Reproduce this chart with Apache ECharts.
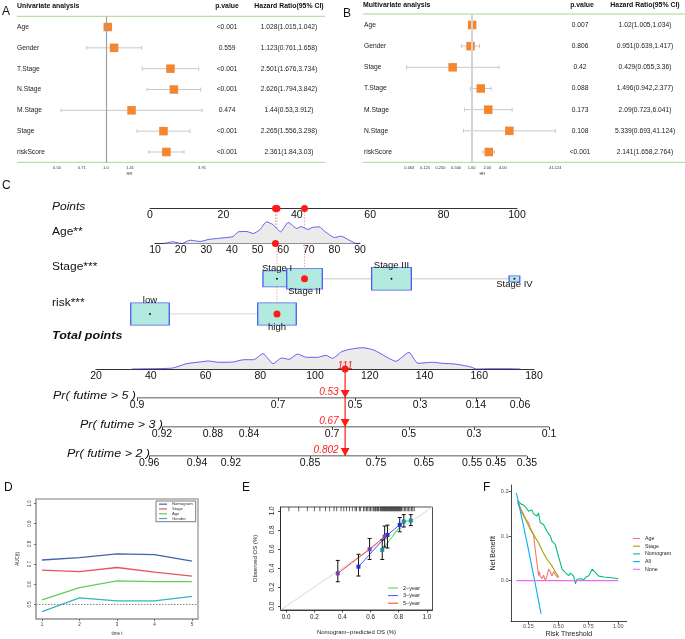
<!DOCTYPE html>
<html><head><meta charset="utf-8">
<script src="https://cdn.jsdelivr.net/npm/echarts/dist/echarts.min.js"></script>
<style>html,body{margin:0;padding:0;background:#fff}#c{width:685px;height:639px}</style>
</head><body><div id="c"></div>
<script>
// ---------- Panel A: univariate Cox ----------
const uniVars = ['Age','Gender','T.Stage','N.Stage','M.Stage','Stage','riskScore'];
const uniHR = [1.028,1.123,2.501,2.626,1.44,2.265,2.361];
const uniLo = [1.015,0.761,1.676,1.794,0.53,1.556,1.84];
const uniHi = [1.042,1.658,3.734,3.842,3.912,3.298,3.03];
const uniP = ['<0.001','0.559','<0.001','<0.001','0.474','<0.001','<0.001'];
const uniTicks = [0.5,0.71,1,1.41,3.91];
const uniTickLabels = ['0.50','0.71','1.0','1.41','3.91'];
// ---------- Panel B: multivariate Cox ----------
const multiVars = ['Age','Gender','Stage','T.Stage','M.Stage','N.Stage','riskScore'];
const multiHR = [1.02,0.951,0.429,1.496,2.09,5.339,2.141];
const multiLo = [1.005,0.639,0.055,0.942,0.723,0.693,1.658];
const multiHi = [1.034,1.417,3.36,2.377,6.041,41.124,2.764];
const multiP = ['0.007','0.806','0.42','0.088','0.173','0.108','<0.001'];
const multiTicks = [0.0625,0.125,0.25,0.5,1,2,4,41.124];
const multiTickLabels = ['0.063','0.125','0.250','0.500','1.00','2.00','4.00','41.124'];
const tableHeaders = ['p.value','Hazard Ratio(95% CI)'];
// ---------- Panel C: nomogram ----------
const nomoRowLabels = ['Points','Age**','Stage***','risk***'];
const ageDensX = [13.3,17,20.4,23.7,27.6,30.8,34,38,40.5,42.5,45.8,48.3,51,53.5,56,57.5,59,62,65.4,67,69.7,71.3,74,76.5,80,82.6,85.8,88.5];
const ageDensY = [0,1.7,0,3.3,2,4,5,6,7,11.7,12,10,14,21.7,19,15,11.7,21,15,17,14,16,16.7,11.7,6,7.3,3.3,0];
const patientAge = 57;
const agePts = 34.2;
const stageNames = ['Stage I','Stage II','Stage III','Stage IV'];
const stagePts = [34.6,42.1,65.8,99.3];
const stageN = [90,145,180,13];
const patientStage = 1;
const riskNames = ['low','high'];
const riskPts = [0,34.6];
const riskN = [170,170];
const patientRisk = 1;
const totalDensX = [33,40,48,53,58,61,65,70,74,77.5,81,84.7,87.8,90.5,93.6,96.9,100.9,104,106.4,109.7,112.7,117.4,121.5,125.5,129.5,134.3,137.6,143,146.4,151,156.6,159,164,170,175];
const totalDensY = [0,0.3,1,5.3,7,8,6.7,7,9.3,9.3,15.3,5.3,11,9.7,15,11.7,11.7,13.7,10.7,17.3,19.7,21.3,19,13,7.7,16.7,5.7,6.7,5.7,5,2.3,0,0.3,0.3,0];
const patientTotal = 111;
const prLabels = ['Pr( futime > 5 )','Pr( futime > 3 )','Pr( futime > 2 )'];
const pr5Probs = ['0.9','0.7','0.5','0.3','0.14','0.06'];
const pr5At = [35.0,86.5,114.6,138.4,158.8,174.9];
const pr3Probs = ['0.92','0.88','0.84','0.7','0.5','0.3','0.1'];
const pr3At = [44.1,62.7,75.9,106.2,134.3,158.1,185.5];
const pr2Probs = ['0.96','0.94','0.92','0.85','0.75','0.65','0.55','0.45','0.35'];
const pr2At = [39.4,56.9,69.3,98.2,122.3,139.8,157.4,166.1,177.4];
const patientProbs = ['0.53','0.67','0.802'];
// ---------- Panel D: time-dependent AUC ----------
const aucTimes = [1,2,3,4,5];
const aucNomogram = [0.72,0.732,0.75,0.747,0.715];
const aucStage = [0.67,0.663,0.683,0.66,0.64];
const aucAge = [0.523,0.583,0.617,0.613,0.613];
const aucGender = [0.465,0.533,0.518,0.518,0.54];
const aucTicks = [0.5,0.6,0.7,0.8,0.9,1.0];
// ---------- Panel E: calibration ----------
const cal2Pred = [0.683,0.836,0.886], cal2Obs = [0.59,0.888,0.898], cal2Lo = [0.49,0.83,0.845], cal2Hi = [0.695,0.96,0.96];
const cal3Pred = [0.514,0.72,0.807], cal3Obs = [0.414,0.747,0.853], cal3Lo = [0.316,0.61,0.78], cal3Hi = [0.544,0.85,0.93];
const cal5Pred = [0.367,0.593,0.70], cal5Obs = [0.344,0.597,0.73], cal5Lo = [0.256,0.49,0.62], cal5Hi = [0.48,0.71,0.84];
const calTicks = [0,0.2,0.4,0.6,0.8,1.0];
const rugPred = [0.02,0.09,0.15,0.2,0.24,0.28,0.31,0.34,0.36,0.39,0.41,0.43,0.45,0.47,0.49,0.5,0.52,0.53,0.55,0.56,0.57,0.58,0.59,0.6,0.61,0.62,0.63,0.635,0.64,0.65,0.655,0.66,0.67,0.675,0.68,0.685,0.69,0.695,0.7,0.705,0.71,0.715,0.72,0.725,0.73,0.735,0.74,0.745,0.75,0.755,0.76,0.765,0.77,0.775,0.78,0.785,0.79,0.795,0.8,0.805,0.81,0.815,0.82,0.83,0.84,0.85,0.86,0.87,0.88,0.89,0.9,0.91];
// ---------- Panel F: decision curve ----------
const dcaAll = [[0.15,0.197],[0.2,0.135],[0.25,0.07],[0.3,0.003],[0.356,-0.075]];
const dcaNone = [[0.15,0],[1.0,0]];
const dcaNomogram = [[0.16,0.18],[0.172,0.178],[0.19,0.172],[0.209,0.17],[0.223,0.174],[0.237,0.162],[0.251,0.156],[0.265,0.16],[0.279,0.159],[0.293,0.15],[0.307,0.148],[0.321,0.145],[0.335,0.152],[0.349,0.13],[0.363,0.133],[0.377,0.126],[0.391,0.118],[0.405,0.111],[0.419,0.115],[0.433,0.1],[0.447,0.089],[0.461,0.087],[0.475,0.081],[0.489,0.066],[0.503,0.052],[0.517,0.04],[0.531,0.026],[0.545,0.022],[0.559,0.018],[0.573,0.02],[0.586,0.011],[0.6,0.017],[0.614,0.015],[0.628,0.01],[0.642,-0.007],[0.656,0.003],[0.67,0.0],[0.69,0.004],[0.712,0.002],[0.73,0.008],[0.754,0.011],[0.768,0.018],[0.782,0.026],[0.796,0.024],[0.81,0.018],[0.838,0.01],[0.88,0.008],[0.921,0.007],[0.96,0.006],[1.0,0.004]];
const dcaAge = [[0.16,0.18],[0.19,0.16],[0.209,0.15],[0.223,0.14],[0.237,0.135],[0.251,0.13],[0.265,0.119],[0.279,0.122],[0.293,0.104],[0.307,0.07],[0.321,0.041],[0.335,0.011],[0.342,0.02],[0.349,0.01],[0.363,0.004],[0.377,0.012],[0.391,0.0],[0.405,0.01],[0.419,0.026],[0.433,0.02],[0.447,0.011],[0.461,0.02],[0.475,0.019],[0.489,0.008],[0.503,0.007]];
const dcaStage = [[0.16,0.175],[0.19,0.155],[0.223,0.14],[0.26,0.118],[0.3,0.1],[0.335,0.085],[0.37,0.065],[0.405,0.048],[0.447,0.033],[0.475,0.02],[0.503,0.008]];
const dcaTicksX = [0.25,0.5,0.75,1.0];
const dcaTicksY = [0,0.1,0.2];

// ================= drawing =================
const FONT = 'Liberation Sans';
const L2 = v => Math.log2(v);
const chart = echarts.init(document.getElementById('c'), null, {renderer:'canvas', width:685, height:639});
const ORANGE = '#f4862f';
const labelFrom = (vals, labels, tf) => v => { for (let i=0;i<vals.length;i++){ if (Math.abs(tf(vals[i])-v) < 1e-6) return labels[i]; } return ''; };
const ident = v => v;

function whisker(xi, yi, lo, hi, color, cap) {
  return {type:'custom', xAxisIndex:xi, yAxisIndex:yi, clip:false, z:2, silent:true,
    data: lo.map((l,i)=>[L2(l), L2(hi[i]), i]), encode:{x:[0,1], y:2},
    renderItem:(p, api)=>{
      const a = api.coord([api.value(0), api.value(2)]);
      const b = api.coord([api.value(1), api.value(2)]);
      const st = {stroke:color, lineWidth:1};
      return {type:'group', children:[
        {type:'line', shape:{x1:a[0],y1:a[1],x2:b[0],y2:b[1]}, style:st},
        {type:'line', shape:{x1:a[0],y1:a[1]-cap,x2:a[0],y2:a[1]+cap}, style:st},
        {type:'line', shape:{x1:b[0],y1:b[1]-cap,x2:b[0],y2:b[1]+cap}, style:st}]};
    }};
}
function errBars(xi, yi, pred, lo, hi) {
  return {type:'custom', xAxisIndex:xi, yAxisIndex:yi, silent:true, z:4,
    data: pred.map((p,i)=>[p, lo[i], hi[i]]), encode:{x:0, y:[1,2]},
    renderItem:(pr, api)=>{
      const a = api.coord([api.value(0), api.value(1)]);
      const b = api.coord([api.value(0), api.value(2)]);
      const st = {stroke:'#111', lineWidth:1};
      return {type:'group', children:[
        {type:'line', shape:{x1:a[0],y1:a[1],x2:b[0],y2:b[1]}, style:st},
        {type:'line', shape:{x1:a[0]-2,y1:a[1],x2:a[0]+2,y2:a[1]}, style:st},
        {type:'line', shape:{x1:b[0]-2,y1:b[1],x2:b[0]+2,y2:b[1]}, style:st}]};
    }};
}
const boxDim = n => { const w = Math.sqrt(n*5*1.75); return [w, w/1.75]; };

function txt(x, y, text, o) {
  o = o || {};
  return {type:'text', x:x, y:y, scaleX:o.sx||1, scaleY:1, silent:true, z:10,
    style:{x:0, y:0, text:text, fontSize:o.size||7, fontFamily:FONT, fontWeight:o.weight||'normal',
      fontStyle:o.style||'normal', fill:o.color||'#111', align:o.align||'left', textAlign:o.align||'left',
      verticalAlign:'middle', textVerticalAlign:'middle'}};
}
function hline(x1, x2, y, color, w) {
  return {type:'line', silent:true, shape:{x1:x1,y1:y,x2:x2,y2:y}, style:{stroke:color, lineWidth:w||1}};
}
const GREEN = '#a9d98c';

const graphic = [
  txt(2, 12, 'A', {size:12}), txt(343, 14, 'B', {size:12}), txt(2, 186, 'C', {size:12}),
  txt(4, 488, 'D', {size:12}), txt(242, 488, 'E', {size:12}), txt(483, 488, 'F', {size:12}),
  txt(17, 6, 'Univariate analysis', {size:6.9, weight:'bold'}),
  txt(227, 6, tableHeaders[0], {size:6.9, weight:'bold', align:'center'}),
  txt(289, 6, tableHeaders[1], {size:6.9, weight:'bold', align:'center'}),
  txt(363, 5, 'Multivariate analysis', {size:6.9, weight:'bold'}),
  txt(582, 5, tableHeaders[0], {size:6.9, weight:'bold', align:'center'}),
  txt(645, 5, tableHeaders[1], {size:6.9, weight:'bold', align:'center'}),
  hline(17, 325, 16.3, GREEN, 1), hline(17, 325, 162.3, GREEN, 1),
  hline(363, 685, 14, GREEN, 1), hline(363, 685, 162.3, GREEN, 1),
  txt(52, 207, nomoRowLabels[0], {size:10, style:'italic', sx:1.2}),
  txt(52, 232, nomoRowLabels[1], {size:10, sx:1.2}),
  txt(52, 267, nomoRowLabels[2], {size:10, sx:1.2}),
  txt(52, 303, nomoRowLabels[3], {size:10, sx:1.2}),
  txt(52, 336, 'Total points', {size:10, style:'italic', weight:'bold', sx:1.25}),
  txt(53, 396, prLabels[0], {size:10, style:'italic', sx:1.25}),
  txt(80, 425, prLabels[1], {size:10, style:'italic', sx:1.25}),
  txt(67, 454, prLabels[2], {size:10, style:'italic', sx:1.25})
];

const hidden = {show:false};
const grid = [
  {left:57, top:16.6, width:145, height:145.8},          // 0 A
  {left:409.3, top:14.4, width:146, height:148.2},       // 1 B
  {left:150, top:198.5, width:367, height:10},           // 2 points axis
  {left:155, top:214, width:205, height:29.5},           // 3 age
  {left:150, top:208.5, width:367, height:105.5},        // 4 overlay top
  {left:96, top:344, width:438, height:25},              // 5 total points
  {left:96, top:388, width:465.4, height:10},            // 6 pr5
  {left:96, top:417, width:465.4, height:10},            // 7 pr3
  {left:96, top:446, width:465.4, height:10},            // 8 pr2
  {left:96, top:369, width:438, height:87},              // 9 overlay bottom
  {left:36, top:499, width:162, height:120, show:true, borderColor:'#a8a8a8', borderWidth:1.5}, // 10 D
  {left:280.5, top:507, width:152, height:103, show:true, borderColor:'#222', borderWidth:0.8}, // 11 E
  {left:511, top:485, width:115.7, height:138}           // 12 F
];

const nomoAxisLabel = {fontSize:10.5, margin:1.5, color:'#111', fontFamily:FONT};
const prAxis = (gi, at, probs) => ({gridIndex:gi, type:'value', min:20, max:190, axisLine:{show:false, onZero:false}, splitLine:hidden,
  axisTick:{show:true, customValues:at, length:3, lineStyle:{color:'#111', width:0.8}},
  axisLabel:{customValues:at, formatter:labelFrom(at, probs, ident), fontSize:10.5, margin:1.5, color:'#111', fontFamily:FONT}});

const xAxis = [
  {gridIndex:0, type:'value', min:L2(0.5), max:L2(3.912), offset:1.2, splitLine:hidden,
   axisLine:{onZero:false, lineStyle:{color:'#333', width:0.8}},
   axisTick:{customValues:uniTicks.map(L2), length:2, lineStyle:{color:'#333', width:0.8}},
   axisLabel:{customValues:uniTicks.map(L2), formatter:labelFrom(uniTicks, uniTickLabels, L2), fontSize:4, margin:2, color:'#333'},
   name:'HR', nameLocation:'middle', nameGap:8, nameTextStyle:{fontSize:4, color:'#333'}},
  {gridIndex:1, type:'value', min:-4, max:L2(41.124), offset:1, splitLine:hidden,
   axisLine:{onZero:false, lineStyle:{color:'#333', width:0.8}},
   axisTick:{customValues:multiTicks.map(L2), length:2, lineStyle:{color:'#333', width:0.8}},
   axisLabel:{customValues:multiTicks.map(L2), formatter:labelFrom(multiTicks, multiTickLabels, L2), fontSize:4, margin:2, color:'#333'},
   name:'HR', nameLocation:'middle', nameGap:8, nameTextStyle:{fontSize:4, color:'#333'}},
  {gridIndex:2, type:'value', min:0, max:100, interval:20, splitLine:hidden,
   axisLine:{onZero:false, lineStyle:{color:'#333', width:1}}, axisTick:hidden, axisLabel:nomoAxisLabel},
  {gridIndex:3, type:'value', min:10, max:90, interval:10, splitLine:hidden,
   axisLine:{onZero:false, lineStyle:{color:'#333', width:1}}, axisTick:hidden, axisLabel:nomoAxisLabel},
  {gridIndex:4, type:'value', min:0, max:100, show:false},
  {gridIndex:5, type:'value', min:20, max:180, interval:20, splitLine:hidden,
   axisLine:{onZero:false, lineStyle:{color:'#333', width:1}}, axisTick:hidden, axisLabel:nomoAxisLabel},
  prAxis(6, pr5At, pr5Probs), prAxis(7, pr3At, pr3Probs), prAxis(8, pr2At, pr2Probs),
  {gridIndex:9, type:'value', min:20, max:180, show:false},
  {gridIndex:10, type:'value', min:0.84, max:5.16, splitLine:hidden,
   axisLine:{show:true, onZero:false, lineStyle:{color:'#a8a8a8', width:1.5}},
   axisTick:{customValues:aucTimes, length:2, inside:false, lineStyle:{color:'#555', width:0.8}},
   axisLabel:{customValues:aucTimes, fontSize:4.5, margin:3.5, color:'#333'},
   name:'time t', nameLocation:'middle', nameGap:12, nameTextStyle:{fontSize:4.5, color:'#333'}},
  {gridIndex:11, type:'value', min:-0.04, max:1.04, splitLine:hidden,
   axisLine:{show:true, onZero:false, lineStyle:{color:'#222', width:0.8}},
   axisTick:{customValues:calTicks, length:2.5, inside:false, lineStyle:{color:'#222', width:0.8}},
   axisLabel:{customValues:calTicks, formatter:v=>v.toFixed(1), fontSize:6.3, margin:4, color:'#222'},
   name:'Nomogram\u2212predicted OS (%)', nameLocation:'middle', nameGap:19, nameTextStyle:{fontSize:6, color:'#222'}},
  {gridIndex:12, type:'value', min:0.105, max:1.07, splitLine:hidden,
   axisLine:{onZero:false, lineStyle:{color:'#333', width:0.9}},
   axisTick:{customValues:dcaTicksX, length:2.5, lineStyle:{color:'#333', width:0.8}},
   axisLabel:{customValues:dcaTicksX, formatter:v=>v.toFixed(2), fontSize:5.5, margin:1.8, color:'#4d4d4d'},
   name:'Risk Threshold', nameLocation:'middle', nameGap:9.5, nameTextStyle:{fontSize:7, color:'#222'}}
];

const catLabel = (m, al) => ({margin:m, align:al, fontSize:6.7, color:'#222', interval:0, fontFamily:FONT});
const yAxis = [
  {gridIndex:0, type:'category', data:uniVars, inverse:true, axisLine:hidden, axisTick:hidden, axisLabel:catLabel(40,'left')},
  {gridIndex:0, type:'category', data:uniP, inverse:true, position:'right', axisLine:hidden, axisTick:hidden, axisLabel:catLabel(25,'center')},
  {gridIndex:0, type:'category', data:uniHR.map((h,i)=>h+'('+uniLo[i]+','+uniHi[i]+')'), inverse:true, position:'right', axisLine:hidden, axisTick:hidden, axisLabel:catLabel(87,'center')},
  {gridIndex:1, type:'category', data:multiVars, inverse:true, axisLine:hidden, axisTick:hidden, axisLabel:catLabel(45.3,'left')},
  {gridIndex:1, type:'category', data:multiP, inverse:true, position:'right', axisLine:hidden, axisTick:hidden, axisLabel:catLabel(24.7,'center')},
  {gridIndex:1, type:'category', data:multiHR.map((h,i)=>h+'('+multiLo[i]+','+multiHi[i]+')'), inverse:true, position:'right', axisLine:hidden, axisTick:hidden, axisLabel:catLabel(89.7,'center')},
  {gridIndex:2, type:'value', min:0, max:1, show:false},
  {gridIndex:3, type:'value', min:0, max:29.5, show:false},
  {gridIndex:4, type:'value', min:0, max:3, inverse:true, show:false},
  {gridIndex:5, type:'value', min:0, max:25, show:false},
  {gridIndex:6, type:'value', min:0, max:1, show:false},
  {gridIndex:7, type:'value', min:0, max:1, show:false},
  {gridIndex:8, type:'value', min:0, max:1, show:false},
  {gridIndex:9, type:'value', min:0, max:3, inverse:true, show:false},
  {gridIndex:10, type:'value', min:0.428, max:1.022, splitLine:hidden,
   axisLine:{show:true, onZero:false, lineStyle:{color:'#a8a8a8', width:1.5}},
   axisTick:{customValues:aucTicks, length:2, inside:false, lineStyle:{color:'#555', width:0.8}},
   axisLabel:{customValues:aucTicks, formatter:v=>v.toFixed(1), rotate:90, fontSize:4.5, margin:4, color:'#333'},
   name:'AUC(t)', nameLocation:'middle', nameGap:16, nameTextStyle:{fontSize:4.5, color:'#333'}},
  {gridIndex:11, type:'value', min:-0.04, max:1.04, splitLine:hidden,
   axisLine:{show:true, onZero:false, lineStyle:{color:'#222', width:0.8}},
   axisTick:{customValues:calTicks, length:2.5, inside:false, lineStyle:{color:'#222', width:0.8}},
   axisLabel:{customValues:calTicks, formatter:v=>v.toFixed(1), rotate:90, fontSize:6.3, margin:5, color:'#222'},
   name:'Observed OS (%)', nameLocation:'middle', nameGap:22, nameTextStyle:{fontSize:6, color:'#222'}},
  {gridIndex:12, type:'value', min:-0.092, max:0.215, splitLine:hidden,
   axisLine:{onZero:false, lineStyle:{color:'#333', width:0.9}},
   axisTick:{customValues:dcaTicksY, length:2.5, lineStyle:{color:'#333', width:0.8}},
   axisLabel:{customValues:dcaTicksY, formatter:v=>v.toFixed(1), fontSize:5.5, margin:2.5, color:'#4d4d4d'},
   name:'Net Benefit', nameLocation:'middle', nameGap:13, nameTextStyle:{fontSize:7, color:'#222'}}
];

const RED = '#ff1a1a';
const series = [];
// A
series.push(whisker(0, 0, uniLo, uniHi, '#c8c8c8', 2));
series.push({type:'scatter', xAxisIndex:0, yAxisIndex:0, z:3, data:uniHR.map((h,i)=>[L2(h), i]), symbol:'rect', symbolSize:8.5,
  itemStyle:{color:ORANGE, opacity:1}, silent:true,
  markLine:{silent:true, symbol:['none','none'], label:hidden, data:[{xAxis:0}], lineStyle:{color:'#a0a0a0', width:1.2, type:'solid'}}});
// B
series.push(whisker(1, 3, multiLo, multiHi, '#c8c8c8', 2));
series.push({type:'scatter', xAxisIndex:1, yAxisIndex:3, z:3, data:multiHR.map((h,i)=>[L2(h), i]), symbol:'rect', symbolSize:8.5,
  itemStyle:{color:ORANGE, opacity:1}, silent:true,
  markLine:{silent:true, symbol:['none','none'], label:hidden, data:[{xAxis:0}], lineStyle:{color:'#d4d4d4', width:2, type:'solid'}}});
// C age density
series.push({type:'line', xAxisIndex:3, yAxisIndex:7, data:ageDensX.map((a,i)=>[a, ageDensY[i]]), symbol:'none', smooth:0.2,
  lineStyle:{color:'#3b3bf2', width:0.8}, areaStyle:{color:'#ebebeb', opacity:1}, silent:true});
series.push({type:'scatter', xAxisIndex:3, yAxisIndex:7, data:[[patientAge,0]], symbolSize:7, itemStyle:{color:RED, opacity:1}, z:5, silent:true});
// C overlay top: dotted guide lines
const guide = [[agePts,1],[stagePts[patientStage],2],[riskPts[patientRisk],3]];
series.push({type:'custom', xAxisIndex:4, yAxisIndex:8, clip:false, silent:true, z:1, data:guide,
  renderItem:(p, api)=>{ const a = api.coord([api.value(0), 0]); const b = api.coord([api.value(0), api.value(1)]);
    return {type:'line', shape:{x1:a[0],y1:a[1],x2:b[0],y2:b[1]}, style:{stroke:'#f5a3a3', lineWidth:1, lineDash:[1.5,1.5]}}; }});
// stage & risk rows
function catRow(pts, names, ns, row, sel) {
  series.push({type:'line', xAxisIndex:4, yAxisIndex:8, data:[[Math.min(...pts),row],[Math.max(...pts),row]], symbol:'none',
    lineStyle:{color:'#c8c8c8', width:1}, z:1, silent:true});
  series.push({type:'scatter', xAxisIndex:4, yAxisIndex:8, z:2, silent:true, symbol:'rect',
    itemStyle:{color:'#b3eadf', borderColor:'#4b5ef2', borderWidth:1, opacity:1},
    data: pts.map((p,i)=>({value:[p,row], name:names[i], symbolSize:boxDim(ns[i]),
      label:{show:true, formatter:names[i], position: i%2===0 ? 'top':'bottom', distance:-3, fontSize:9.5, color:'#111', fontFamily:FONT}}))});
  series.push({type:'scatter', xAxisIndex:4, yAxisIndex:8, z:3, silent:true,
    data: pts.filter((p,i)=>i!==sel).map(p=>[p,row]), symbolSize:2, itemStyle:{color:'#111', opacity:1}});
  series.push({type:'scatter', xAxisIndex:4, yAxisIndex:8, z:3, silent:true,
    data: [[pts[sel],row]], symbolSize:7, itemStyle:{color:RED, opacity:1}});
}
catRow(stagePts, stageNames, stageN, 2, patientStage);
catRow(riskPts, riskNames, riskN, 3, patientRisk);
series.push({type:'scatter', xAxisIndex:4, yAxisIndex:8, z:5, silent:true, symbolSize:7, itemStyle:{color:RED, opacity:1},
  data: guide.map(g=>[g[0],0])});
// total points density
series.push({type:'line', xAxisIndex:5, yAxisIndex:9, data:totalDensX.map((a,i)=>[a, totalDensY[i]]), symbol:'none', smooth:0.2,
  lineStyle:{color:'#3b3bf2', width:0.8}, areaStyle:{color:'#ebebeb', opacity:1}, silent:true});
// Pr axis lines
[[6,10,pr5At],[7,11,pr3At],[8,12,pr2At]].forEach(([xi,yi,at])=>{
  series.push({type:'line', xAxisIndex:xi, yAxisIndex:yi, data:[[at[0],0],[at[at.length-1],0]], symbol:'none',
    lineStyle:{color:'#222', width:1}, silent:true});
});
// red prediction line
series.push({type:'line', xAxisIndex:9, yAxisIndex:13, data:[[patientTotal,0],[patientTotal,3]], symbol:'none',
  lineStyle:{color:RED, width:1.2}, silent:true, z:4});
series.push({type:'scatter', xAxisIndex:9, yAxisIndex:13, data:[[patientTotal,0]], symbolSize:7, itemStyle:{color:RED, opacity:1}, z:5, silent:true,
  label:{show:true, formatter:String(patientTotal), position:'inside', offset:[0,-3], color:RED, fontStyle:'italic', fontSize:10, fontFamily:FONT}});
series.push({type:'scatter', xAxisIndex:9, yAxisIndex:13, z:5, silent:true, symbol:'triangle', symbolRotate:180, symbolSize:[9,8], symbolOffset:[0,-4],
  itemStyle:{color:RED, opacity:1}, data: patientProbs.map((p,i)=>({value:[patientTotal, i+1], label:{show:true, formatter:p}})),
  label:{position:'left', distance:2, offset:[0,-2], color:RED, fontStyle:'italic', fontSize:10, fontFamily:FONT}});
// D
const dLine = (name, data, color) => ({type:'line', name:name, xAxisIndex:10, yAxisIndex:14, data:aucTimes.map((t,i)=>[t,data[i]]),
  symbol:'none', lineStyle:{color:color, width:1.3}, itemStyle:{color:color}, silent:true});
series.push(dLine('D:Nomogram', aucNomogram, '#3f63ad'));
series.push(dLine('D:Stage', aucStage, '#e8535f'));
series.push(dLine('D:Age', aucAge, '#5fcc5f'));
series.push(dLine('D:Gender', aucGender, '#37b3c6'));
series[series.length-1].markLine = {silent:true, symbol:['none','none'], label:hidden, data:[{yAxis:0.5}], lineStyle:{color:'#777', width:0.9, type:[1.5,1.5]}};
// E
series.push({type:'line', xAxisIndex:11, yAxisIndex:15, data:[[-0.04,-0.04],[1.04,1.04]], symbol:'none', lineStyle:{color:'#d8d8d8', width:1}, silent:true, z:1});
series.push({type:'scatter', xAxisIndex:11, yAxisIndex:15, data:rugPred.map(v=>[v,1.04]), symbol:'rect', symbolSize:[0.7,4.5], symbolOffset:[0,2],
  itemStyle:{color:'#222', opacity:1}, silent:true});
const eLine = (name, pr, ob, color) => ({type:'line', name:name, xAxisIndex:11, yAxisIndex:15, data:pr.map((p,i)=>[p,ob[i]]),
  symbol:'none', lineStyle:{color:color, width:1}, itemStyle:{color:color}, silent:true, z:3});
series.push(eLine('E:2\u2212year', cal2Pred, cal2Obs, '#3ddc3d'));
series.push(eLine('E:3\u2212year', cal3Pred, cal3Obs, '#5050ff'));
series.push(eLine('E:5\u2212year', cal5Pred, cal5Obs, '#ee3a3a'));
series.push(errBars(11, 15, cal2Pred, cal2Lo, cal2Hi));
series.push(errBars(11, 15, cal3Pred, cal3Lo, cal3Hi));
series.push(errBars(11, 15, cal5Pred, cal5Lo, cal5Hi));
[[cal2Pred,cal2Obs,'#1c8f9a'],[cal3Pred,cal3Obs,'#1f2fe0'],[cal5Pred,cal5Obs,'#7a3fb0']].forEach(([p,o,c])=>{
  series.push({type:'scatter', xAxisIndex:11, yAxisIndex:15, z:5, silent:true, symbol:'rect', symbolSize:4,
    itemStyle:{color:c, opacity:1}, data:p.map((v,i)=>[v,o[i]])});
});
// F
const fLine = (name, data, color) => ({type:'line', name:name, xAxisIndex:12, yAxisIndex:16, data:data, symbol:'none',
  lineStyle:{color:color, width:1.1}, itemStyle:{color:color}, silent:true});
series.push(fLine('F:Age', dcaAge, '#F8766D'));
series.push(fLine('F:Stage', dcaStage, '#A3A500'));
series.push(fLine('F:Nomogram', dcaNomogram, '#00BF7D'));
series.push(fLine('F:All', dcaAll, '#00B0F6'));
series.push(fLine('F:None', dcaNone, '#E76BF3'));

const strip = n => n.slice(2);
const legend = [
  {data:['D:Nomogram','D:Stage','D:Age','D:Gender'], orient:'vertical', left:156, top:501, formatter:strip, icon:'rect',
   padding:[1,3,1,3], borderColor:'#444', borderWidth:0.7, itemWidth:8, itemHeight:1.2, itemGap:0.5,
   textStyle:{fontSize:4.2, color:'#333', lineHeight:4.3, padding:[0,0,0,0]}, selectedMode:false},
  {data:['E:2\u2212year','E:3\u2212year','E:5\u2212year'], orient:'vertical', left:388, top:585, formatter:strip, icon:'rect',
   padding:0, itemWidth:10, itemHeight:1, itemGap:1.6, textStyle:{fontSize:5.5, color:'#222', lineHeight:5}, selectedMode:false},
  {data:['F:Age','F:Stage','F:Nomogram','F:All','F:None'], orient:'vertical', left:633, top:536, formatter:strip, icon:'rect',
   padding:0, itemWidth:7, itemHeight:1.1, itemGap:2.7, textStyle:{fontSize:5.3, color:'#222', lineHeight:5}, selectedMode:false}
];

chart.setOption({animation:false, backgroundColor:'#fff', textStyle:{fontFamily:FONT},
  grid:grid, xAxis:xAxis, yAxis:yAxis, series:series, legend:legend, graphic:graphic});
</script></body></html>
